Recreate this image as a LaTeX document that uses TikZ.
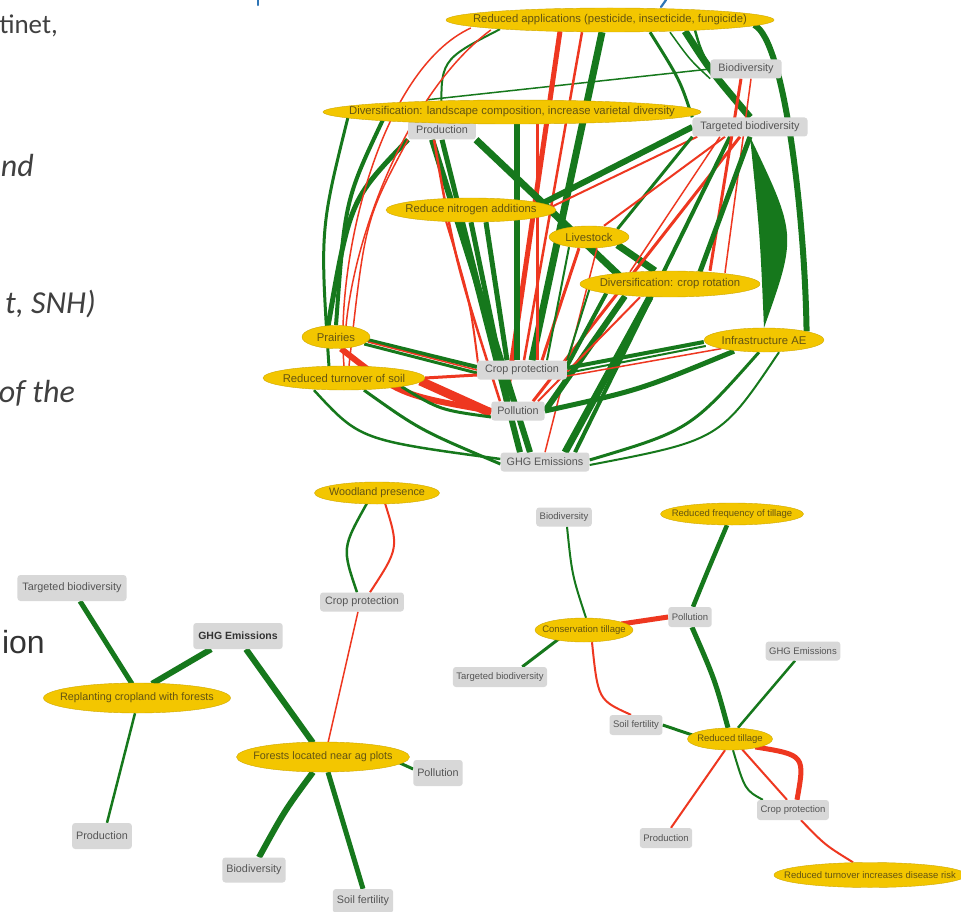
\documentclass[tikz,border=0pt]{standalone}
\usepackage{fontspec}
\setmainfont{Liberation Sans}
\newfontfamily\slidefont{Carlito}
\usetikzlibrary{shapes.geometric,calc}
\definecolor{egreen}{RGB}{22,120,28}
\definecolor{ered}{RGB}{238,55,32}
\definecolor{gold}{RGB}{243,198,0}
\definecolor{goldtext}{RGB}{100,84,18}
\definecolor{boxgray}{RGB}{216,216,216}
\definecolor{boxtext}{RGB}{85,85,85}
\definecolor{slidetext}{RGB}{64,64,64}
\definecolor{titleblue}{RGB}{46,117,182}
\newcommand\ctext[1]{\makebox[0pt]{#1}}
\pgfdeclarelayer{bg}
\pgfdeclarelayer{edges}
\pgfsetlayers{bg,edges,main}
\tikzset{
  practice/.style={ellipse, fill=gold, draw=gold!85!black, line width=0.4pt,
    inner sep=0pt, text=goldtext},
  service/.style={rectangle, rounded corners=3pt, fill=boxgray, text=boxtext,
    inner ysep=0pt, minimum height=19pt},
  gline/.style={draw=egreen, line width=#1},
  rline/.style={draw=ered, line width=#1},
  bigfont/.style={font=\fontsize{11.3}{12}\selectfont},
  boxfont/.style={font=\fontsize{10.8}{12}\selectfont},
  midfont/.style={font=\fontsize{10.8}{12}\selectfont},
  smallfont/.style={font=\fontsize{9.5}{11}\selectfont},
  slide/.style={anchor=base east, inner sep=0pt, text=slidetext},
}
\begin{document}
\begin{tikzpicture}[x=1pt, y=-1pt, line cap=round]
\begin{pgfonlayer}{bg}
  \fill[white] (0,0) rectangle (961,912);
\end{pgfonlayer}
\useasboundingbox (0,0) rectangle (961,912);

% ---- slide text at the left edge ----
\node[slide, font=\slidefont\fontsize{27}{30}\selectfont] (s1) at (58,34) {tinet,};
\node[slide, font=\slidefont\itshape\fontsize{32}{36}\selectfont] (s2) at (34,177) {nd};
\node[slide, font=\slidefont\itshape\fontsize{32}{36}\selectfont] (s3) at (96,313) {t, SNH)};
\node[slide, font=\slidefont\itshape\fontsize{32}{36}\selectfont] (s4) at (75,402) {of the};
\node[slide, font=\fontsize{32}{36}\selectfont, text=black!80] (s5) at (45,653) {ion};
\draw[titleblue, line width=2.2pt] (258,0) -- (258,5);
\draw[titleblue, line width=2.2pt] (666,0) -- (661,7);

% ================= network 1 =================
\node[service, boxfont, inner xsep=8pt] (PROD) at (442,130) {Production};
\node[practice, bigfont, minimum width=328, minimum height=24] (RA) at (610,20)
  {\ctext{Reduced applications (pesticide, insecticide, fungicide)}};
\node[service, boxfont, inner xsep=8pt] (BIO) at (746,69) {Biodiversity};
\node[practice, bigfont, minimum width=378, minimum height=24] (DL) at (512,112)
  {\ctext{Diversification: landscape composition, increase varietal diversity}};
\node[service, boxfont, inner xsep=8pt] (TB) at (750,127) {Targeted biodiversity};
\node[practice, bigfont, minimum width=170, minimum height=24] (RN) at (471,210)
  {\ctext{Reduce nitrogen additions}};
\node[practice, bigfont, minimum width=80, minimum height=22] (LS) at (589,237)
  {\ctext{Livestock}};
\node[practice, bigfont, minimum width=180, minimum height=26] (CR) at (670,284)
  {\ctext{Diversification: crop rotation}};
\node[practice, bigfont, minimum width=68, minimum height=23] (PR) at (336,337)
  {\ctext{Prairies}};
\node[practice, bigfont, minimum width=120, minimum height=24] (IA) at (764,340)
  {\ctext{Infrastructure AE}};
\node[practice, bigfont, minimum width=162, minimum height=24] (RT) at (344,378)
  {\ctext{Reduced turnover of soil}};
\node[service, boxfont, inner xsep=8pt] (CP) at (522,370) {Crop protection};
\node[service, boxfont, inner xsep=6pt] (POL) at (518,411) {Pollution};
\node[service, boxfont, inner xsep=6pt] (GHG) at (545,462) {GHG Emissions};

\begin{pgfonlayer}{edges}
  % upper right bundle
  \draw[gline=2.5] ($(RA.south)+(85,-2)$) .. controls (700,48) .. (BIO.west);
  \draw[gline=1.5] ($(RA.south)+(60,0)$) .. controls (690,60) .. (BIO.south west);
  \draw[gline=7] ($(RA.south)+(75,-1)$) .. controls (710,70) .. (TB.north);
  \draw[gline=3] ($(RA.south)+(40,0)$) .. controls (680,80) .. (TB.north west);
  \draw[gline=6] ($(RA.east)+(-20,5)$) .. controls (785,40) and (805,220) .. (IA.north east);
  \fill[egreen] (TB.south) .. controls (797,235) .. (IA.north) .. controls (760,235) .. cycle;
  \draw[gline=1.5] ($(DL.north)+(-85,0)$) -- (BIO.west);
  % from reduced applications downwards
  \draw[gline=7] ($(RA.south)+(-8,0)$) -- ($(CP.north)+(10,0)$);
  \draw[rline=5] ($(RA.south)+(-50,-1)$) -- ($(POL.north)+(-12,0)$);
  \draw[rline=2.5] ($(RA.south)+(-28,0)$) -- ($(CP.north)+(2,0)$);
  \draw[gline=2] ($(RA.south)+(-110,-3)$) .. controls (440,60) .. (PROD.north);
  % landscape diversification
  \draw[gline=6] ($(DL.south)+(5,0)$) -- ($(CP.north)+(-5,0)$);
  \draw[rline=3] ($(DL.south)+(25,0)$) -- ($(CP.north)+(15,0)$);
  \draw[gline=4] ($(DL.west)+(60,8)$) .. controls (345,200) .. (PR.north);
  \draw[gline=3] ($(DL.west)+(25,6)$) .. controls (320,230) .. ($(RT.north)+(-15,1)$);
  % production
  \draw[gline=5] (PROD.south west) .. controls (350,200) .. ($(PR.north)+(-8,1)$);
  \draw[rline=1.5] (PROD.south west) .. controls (365,220) .. ($(RT.north)+(5,0)$);
  \draw[gline=7] (PROD.south east) -- ($(CR.west)+(40,-8)$);
  \draw[gline=5] (PROD.south) -- ($(CP.north)+(-25,0)$);
  \draw[gline=6] ($(PROD.south)+(-10,0)$) -- ($(GHG.north)+(-15,0)$);
  \draw[rline=2.5] ($(PROD.south)+(-8,0)$) .. controls (455,260) .. ($(POL.north)+(-18,0)$);
  % long red arcs on the left
  \draw[rline=1.5] ($(RA.west)+(25,8)$) .. controls (380,70) and (335,260) .. (RT.north);
  \draw[rline=1.5] ($(RA.west)+(45,10)$) .. controls (410,90) and (355,230) .. ($(PR.north)+(10,1)$);
  % reduce nitrogen
  \draw[gline=6] ($(RN.south)+(-10,0)$) -- ($(GHG.north)+(-25,0)$);
  \draw[gline=5] ($(RN.south)+(15,0)$) -- ($(CP.north)+(-15,0)$);
  \draw[gline=5] (RN.south) -- ($(POL.north)+(-10,0)$);
  \draw[rline=2] ($(RN.south)+(-25,-1)$) .. controls (470,300) .. ($(CP.west)+(2,0)$);
  \draw[gline=6] ($(RN.east)+(-15,-6)$) -- (TB.west);
  \draw[rline=2] ($(RN.east)+(-5,-3)$) -- ($(TB.south west)+(5,0)$);
  % livestock
  \draw[gline=3] (LS.north east) -- (TB.south west);
  \draw[rline=2] ($(LS.north)+(15,0)$) -- ($(TB.south)+(-25,0)$);
  \draw[gline=7] (LS.south east) -- ($(CR.north)+(-15,0)$);
  \draw[rline=3] ($(LS.south)+(-10,0)$) -- ($(CP.north)+(20,0)$);
  \draw[gline=2] ($(LS.south)+(-20,-1)$) -- ($(CP.north)+(25,0)$);
  \draw[rline=1.5] ($(LS.south)+(8,0)$) -- (GHG.north);
  % biodiversity / targeted biodiversity
  \draw[rline=3] ($(TB.south)+(-10,0)$) -- ($(POL.north)+(15,0)$);
  \draw[gline=4] ($(TB.south)+(-20,0)$) -- ($(GHG.north)+(30,0)$);
  \draw[rline=3] ($(BIO.south)+(-5,0)$) -- ($(CR.north)+(40,0)$);
  \draw[rline=1.5] ($(BIO.south)+(5,0)$) -- ($(CR.north)+(55,2)$);
  \draw[gline=5] ($(CR.north)+(30,1)$) -- (TB.south);
  \draw[rline=1.5] ($(TB.south)+(-30,0)$) -- ($(CR.north)+(-40,1)$);
  % crop rotation
  \draw[gline=7] ($(CR.south)+(-20,0)$) -- ($(GHG.north)+(20,0)$);
  \draw[gline=6] ($(CR.south)+(-45,-1)$) -- (POL.east);
  \draw[gline=4] (CR.south west) -- ($(CP.east)+(0,-4)$);
  \draw[gline=2] ($(CR.west)+(10,4)$) -- (CP.north east);
  \draw[rline=2] ($(CR.south)+(-30,0)$) -- ($(POL.north)+(20,0)$);
  % prairies and soil turnover
  \draw[gline=4] ($(PR.east)+(-3,3)$) -- ($(CP.west)+(0,-3)$);
  \draw[gline=3] ($(PR.east)+(-6,7)$) -- ($(CP.west)+(0,3)$);
  \draw[rline=1.5] ($(PR.east)+(-2,5)$) -- (CP.west);
  \draw[rline=6] ($(PR.south)+(5,0)$) .. controls (400,395) .. (POL.west);
  \draw[rline=9] ($(RT.east)+(-5,3)$) -- ($(POL.west)+(0,2)$);
  \draw[rline=3] (RT.east) -- ($(CP.west)+(0,5)$);
  \draw[gline=3] ($(RT.south)+(20,0)$) .. controls (420,430) .. ($(GHG.west)+(0,2)$);
  \draw[gline=3] (RT.south east) .. controls (440,410) .. ($(POL.west)+(0,6)$);
  \draw[gline=2.5] ($(RT.south)+(-30,0)$) .. controls (360,440) .. ($(GHG.west)+(0,-3)$);
  % infrastructure
  \draw[gline=4] ($(IA.west)+(0,2)$) -- ($(CP.east)+(0,-2)$);
  \draw[gline=2] ($(IA.west)+(2,6)$) -- ($(CP.east)+(0,3)$);
  \draw[rline=1.5] (IA.south west) -- ($(CP.east)+(0,6)$);
  \draw[gline=5] ($(IA.south)+(-30,-1)$) .. controls (640,390) .. (POL.east);
  \draw[gline=3] ($(IA.south)+(-5,0)$) .. controls (690,430) .. ($(GHG.east)+(0,-2)$);
  \draw[gline=2] ($(IA.south)+(15,0)$) .. controls (720,440) .. ($(GHG.east)+(0,3)$);
\end{pgfonlayer}

% ================= network 2 =================
\node[practice, midfont, minimum width=125, minimum height=22] (Wood) at (377,493)
  {\ctext{Woodland presence}};
\node[service, midfont, inner xsep=5pt] (CP2) at (362,602) {Crop protection};
\node[service, midfont, inner xsep=5pt, minimum height=26] (TB2) at (72,588) {Targeted biodiversity};
\node[service, midfont, inner xsep=5pt, minimum height=26, text=black!80, font=\fontsize{10.5}{12}\selectfont\bfseries] (GHG2) at (238,636) {GHG Emissions};
\node[practice, midfont, minimum width=187, minimum height=30] (Replant) at (137,698)
  {\ctext{Replanting cropland with forests}};
\node[practice, midfont, minimum width=173, minimum height=30] (Forests) at (323,757)
  {\ctext{Forests located near ag plots}};
\node[service, midfont, inner xsep=4pt, minimum height=26] (POL2) at (438,773) {Pollution};
\node[service, midfont, inner xsep=4pt, minimum height=26] (PROD2) at (102,836) {Production};
\node[service, midfont, inner xsep=4pt, minimum height=25] (BIO2) at (254,870) {Biodiversity};
\node[service, midfont, inner xsep=4pt, minimum height=24] (SOIL2) at (363,901) {Soil fertility};

\begin{pgfonlayer}{edges}
  \draw[gline=5] ($(TB2.south)+(8,0)$) -- ($(Replant.north)+(-5,1)$);
  \draw[gline=6] ($(GHG2.south west)+(18,0)$) -- ($(Replant.north)+(15,1)$);
  \draw[gline=2.5] ($(Replant.south)+(-2,0)$) -- ($(PROD2.north)+(5,0)$);
  \draw[gline=6] ($(GHG2.south)+(8,0)$) -- ($(Forests.north)+(-10,1)$);
  \draw[gline=2.5] ($(Wood.south)+(-10,-1)$) .. controls (342,548) .. ($(CP2.north)+(-5,0)$);
  \draw[rline=2] ($(Wood.south)+(8,-1)$) .. controls (399,548) .. ($(CP2.north)+(8,0)$);
  \draw[rline=1.5] ($(CP2.south)+(-4,0)$) -- ($(Forests.north)+(5,1)$);
  \draw[gline=3] ($(Forests.east)+(-12,5)$) -- ($(POL2.west)+(0,-4)$);
  \draw[gline=6] ($(Forests.south)+(-10,0)$) .. controls (285,810) .. ($(BIO2.north)+(5,0)$);
  \draw[gline=5] ($(Forests.south)+(5,0)$) -- (SOIL2.north);
\end{pgfonlayer}

% ================= network 3 =================
\node[service, smallfont, inner xsep=3.5pt, minimum height=19] (BIO3) at (564,517) {Biodiversity};
\node[practice, smallfont, minimum width=143, minimum height=22] (RFT) at (732,514)
  {\ctext{Reduced frequency of tillage}};
\node[practice, smallfont, minimum width=98, minimum height=24] (CT) at (584,630)
  {\ctext{Conservation tillage}};
\node[service, smallfont, inner xsep=3.5pt, minimum height=20] (POL3) at (690,617) {Pollution};
\node[service, smallfont, inner xsep=3.5pt, minimum height=20] (TB3) at (500,677) {Targeted biodiversity};
\node[service, smallfont, inner xsep=3.5pt, minimum height=19] (GHG3) at (803,651) {GHG Emissions};
\node[service, smallfont, inner xsep=3.5pt, minimum height=20] (SOIL3) at (636,725) {Soil fertility};
\node[practice, smallfont, minimum width=85, minimum height=22] (RTIL) at (730,739)
  {\ctext{Reduced tillage}};
\node[service, smallfont, inner xsep=3.5pt, minimum height=20] (CP3) at (793,810) {Crop protection};
\node[service, smallfont, inner xsep=3.5pt, minimum height=20] (PROD3) at (666,838) {Production};
\node[practice, smallfont, minimum width=192, minimum height=25] (RTID) at (870,875)
  {\ctext{Reduced turnover increases disease risk}};

\begin{pgfonlayer}{edges}
  \draw[gline=2] ($(BIO3.south)+(3,0)$) .. controls (572,575) .. ($(CT.north)+(2,0)$);
  \draw[gline=4.5] ($(RFT.south)+(-5,0)$) .. controls (708,570) .. ($(POL3.north)+(3,0)$);
  \draw[rline=5] ($(CT.east)+(-12,-6)$) -- (POL3.west);
  \draw[gline=3] ($(CT.south west)+(10,0)$) -- ($(TB3.north east)+(-25,0)$);
  \draw[rline=2] ($(CT.south)+(8,0)$) .. controls (598,700) .. ($(SOIL3.north)+(-5,0)$);
  \draw[gline=5] ($(POL3.south)+(2,0)$) .. controls (715,680) .. ($(RTIL.north)+(-2,0)$);
  \draw[gline=2.5] ($(GHG3.south)+(-8,0)$) -- ($(RTIL.north)+(8,0)$);
  \draw[gline=3] (SOIL3.east) -- ($(RTIL.west)+(5,-4)$);
  \draw[rline=2] ($(RTIL.south)+(-5,0)$) -- ($(PROD3.north)+(5,0)$);
  \draw[gline=2] ($(RTIL.south)+(3,0)$) .. controls (745,790) .. ($(CP3.north west)+(6,0)$);
  \draw[rline=2] ($(RTIL.south)+(12,-1)$) -- ($(CP3.north)+(-6,0)$);
  \draw[rline=5] ($(RTIL.south east)+(-5,0)$) .. controls (805,755) .. ($(CP3.north)+(4,0)$);
  \draw[rline=2] ($(CP3.south)+(8,0)$) .. controls (825,845) .. ($(RTID.north)+(-17,0)$);
\end{pgfonlayer}
\end{tikzpicture}
\end{document}
